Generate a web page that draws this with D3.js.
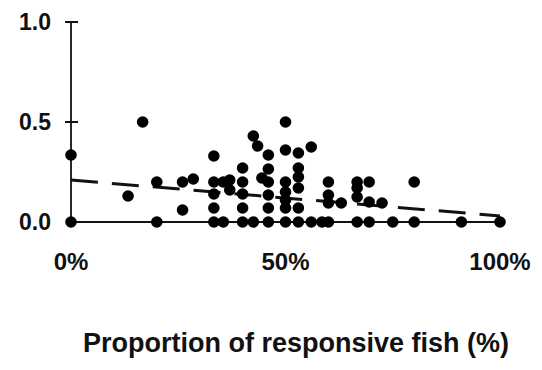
<!DOCTYPE html>
<html>
<head>
<meta charset="utf-8">
<script src="https://cdn.jsdelivr.net/npm/d3@7"></script>
<style>
  body { margin: 0; background: #fff; }
  text { font-family: "Liberation Sans", Arial, sans-serif; font-weight: bold; fill: #111; }
</style>
</head>
<body>
<div id="chart"></div>
<script>
// proportion of responsive fish (%) and the y value of each point
const pctResponsive = [
  0, 0, 13.3, 16.7, 20, 20, 26, 26, 28.5,
  33.3, 33.3, 33.3, 33.3, 33.3, 35.5, 35.5, 37, 37,
  40, 40, 40, 40, 40, 42.5, 42.5, 43.5, 44.5,
  46, 46, 46, 46, 46, 46,
  50, 50, 50, 50, 50, 50, 50,
  53, 53, 53, 53, 53, 53, 56, 56, 58.5,
  60, 60, 60, 60, 63, 66.7, 66.7, 66.7, 66.7,
  69.5, 69.5, 69.5, 72.5, 75, 80, 80, 91, 100
];
const yValues = [
  0.335, 0, 0.13, 0.5, 0.2, 0, 0.2, 0.06, 0.215,
  0.33, 0.2, 0.14, 0.07, 0, 0.2, 0, 0.21, 0.16,
  0.27, 0.2, 0.14, 0.07, 0, 0.43, 0, 0.38, 0.22,
  0.335, 0.265, 0.2, 0.135, 0.07, 0,
  0.5, 0.36, 0.2, 0.15, 0.11, 0.07, 0,
  0.345, 0.27, 0.225, 0.17, 0.07, 0, 0.375, 0, 0,
  0.2, 0.135, 0.095, 0, 0.095, 0.2, 0.17, 0.125, 0,
  0.2, 0.1, 0, 0.095, 0, 0.2, 0, 0, 0
];

// fitted trend (dashed)
const fitX = [0, 100];
const fitY = [0.21, 0.03];

const xTicks = [0, 50, 100];
const xTickLabels = ["0%", "50%", "100%"];
const yTicks = [0, 0.5, 1.0];
const yTickLabels = ["0.0", "0.5", "1.0"];

const width = 542, height = 370;

let svg = d3.select("#chart")
    .append("svg")
    .attr("width", width)
    .attr("height", height);

let x = d3.scaleLinear().domain([0, 100]).range([71, 500]);
let y = d3.scaleLinear().domain([0, 1]).range([222, 22]);

// y axis line + ticks
svg.append("line")
   .attr("x1", x(0)).attr("x2", x(0))
   .attr("y1", y(0)).attr("y2", y(1))
   .attr("stroke", "#111").attr("stroke-width", 1.8);

svg.selectAll(".ytick")
   .data(yTicks.filter(d => d > 0))
   .enter()
   .append("line")
   .attr("x1", x(0) - 6).attr("x2", x(0) + 7)
   .attr("y1", d => y(d)).attr("y2", d => y(d))
   .attr("stroke", "#111").attr("stroke-width", 2);

svg.selectAll(".ylab")
   .data(yTicks)
   .enter()
   .append("text")
   .attr("x", 51)
   .attr("y", d => y(d) + 8)
   .attr("text-anchor", "end")
   .attr("font-size", "23px")
   .text((d, i) => yTickLabels[i]);

// x axis line
svg.append("line")
   .attr("x1", x(0)).attr("x2", x(100))
   .attr("y1", y(0)).attr("y2", y(0))
   .attr("stroke", "#111").attr("stroke-width", 2);

svg.selectAll(".xlab")
   .data(xTicks)
   .enter()
   .append("text")
   .attr("x", d => x(d))
   .attr("y", 270)
   .attr("text-anchor", "middle")
   .attr("font-size", "24px")
   .text((d, i) => xTickLabels[i]);

svg.append("text")
   .attr("x", 296)
   .attr("y", 352)
   .attr("text-anchor", "middle")
   .attr("font-size", "27px")
   .text("Proportion of responsive fish (%)");

// dashed trend
svg.append("path")
   .datum(fitX.map((d, i) => [d, fitY[i]]))
   .attr("d", d3.line().x(d => x(d[0])).y(d => y(d[1])))
   .attr("fill", "none")
   .attr("stroke", "#111")
   .attr("stroke-width", 3)
   .attr("stroke-dasharray", "27,14");

// points
svg.append("g")
   .selectAll("circle")
   .data(pctResponsive)
   .enter()
   .append("circle")
   .attr("cx", d => x(d))
   .attr("cy", (d, i) => y(yValues[i]))
   .attr("r", 5.8)
   .attr("fill", "#000");
</script>
</body>
</html>
